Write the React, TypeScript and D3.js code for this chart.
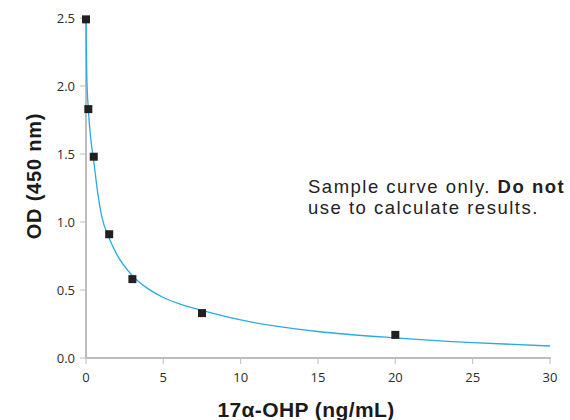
import * as d3 from 'd3'

const WIDTH = 570
const HEIGHT = 420
const MARGIN = { top: 18, right: 20, bottom: 62, left: 86 }

// standards (ng/mL vs OD)
const concentrations = [0, 0.15, 0.5, 1.5, 3, 7.5, 20]
const odValues = [2.49, 1.83, 1.48, 0.91, 0.58, 0.33, 0.17]

// fitted curve
const fitX = [0, 0.05, 0.15, 0.3, 0.5, 0.75, 1, 1.5, 2, 3, 4, 5, 6, 7.5, 10, 12.5, 15, 20, 25, 30]
const fitY = [2.5, 2.08, 1.83, 1.62, 1.45, 1.22, 1.05, 0.88, 0.76, 0.605, 0.51, 0.445, 0.4, 0.35, 0.28, 0.23, 0.195, 0.148, 0.113, 0.088]

const xTicks = [0, 5, 10, 15, 20, 25, 30]
const yTicks = [0, 0.5, 1.0, 1.5, 2.0, 2.5]

const AXIS_COLOR = '#bdbdbd'
const TEXT_COLOR = '#2b2b2b'

export default function App() {
  const boundsWidth = WIDTH - MARGIN.left - MARGIN.right
  const boundsHeight = HEIGHT - MARGIN.top - MARGIN.bottom

  const xScale = d3.scaleLinear().domain([0, 30]).range([0, boundsWidth])
  const yScale = d3.scaleLinear().domain([0, 2.5]).range([boundsHeight, 0])

  const line = d3
    .line<number>()
    .x((d) => xScale(d))
    .y((_, i) => yScale(fitY[i]))
    .curve(d3.curveMonotoneX)

  const path = line(fitX) || ''

  return (
    <svg
      width={WIDTH}
      height={HEIGHT}
      style={{ position: 'absolute', left: 0, top: 0, background: '#fff' }}
    >
      <g transform={`translate(${MARGIN.left},${MARGIN.top})`}>
        {/* axes */}
        <line x1={0} x2={0} y1={0} y2={boundsHeight + 1} stroke={AXIS_COLOR} strokeWidth={2} />
        <line x1={-1} x2={boundsWidth + 1} y1={boundsHeight} y2={boundsHeight} stroke={AXIS_COLOR} strokeWidth={2} />

        {yTicks.map((t) => (
          <g key={t} transform={`translate(0,${yScale(t)})`}>
            <line x1={-6} x2={0} stroke={AXIS_COLOR} strokeWidth={1} />
            <text
              x={-11}
              dy="0.36em"
              textAnchor="end"
              fontSize={13}
              fontFamily="'Open Sans', sans-serif"
              fill={TEXT_COLOR}
            >
              {t.toFixed(1)}
            </text>
          </g>
        ))}

        {xTicks.map((t) => (
          <g key={t} transform={`translate(${xScale(t)},${boundsHeight})`}>
            <line y1={0} y2={6} stroke={AXIS_COLOR} strokeWidth={1} />
            <text
              y={24}
              textAnchor="middle"
              fontSize={13}
              fontFamily="'Open Sans', sans-serif"
              fill={TEXT_COLOR}
            >
              {t}
            </text>
          </g>
        ))}

        <path d={path} fill="none" stroke="#29abe2" strokeWidth={1.3} />

        {concentrations.map((c, i) => (
          <rect
            key={i}
            x={xScale(c) - 4}
            y={yScale(odValues[i]) - 4}
            width={8}
            height={8}
            fill="#231f20"
          />
        ))}
      </g>

      <text
        transform="translate(41,176) rotate(-90)"
        textAnchor="middle"
        fontSize={20}
        letterSpacing={0.8}
        fontWeight="bold"
        fontFamily="'Liberation Sans', Arial, sans-serif"
        fill="#1a1a1a"
      >
        OD (450 nm)
      </text>

      <text
        x={306}
        y={417}
        textAnchor="middle"
        fontSize={21}
        letterSpacing={0.4}
        fontWeight="bold"
        fontFamily="'Liberation Sans', Arial, sans-serif"
        fill="#1a1a1a"
      >
        17α-OHP (ng/mL)
      </text>

      <text
        fontSize={18.5}
        letterSpacing={1.5}
        fontFamily="'Liberation Sans', Arial, sans-serif"
        fill="#222"
      >
        <tspan x={308} y={193}>
          Sample curve only. <tspan fontWeight="bold">Do not</tspan>
        </tspan>
        <tspan x={308} y={214}>use to calculate results.</tspan>
      </text>
    </svg>
  )
}
